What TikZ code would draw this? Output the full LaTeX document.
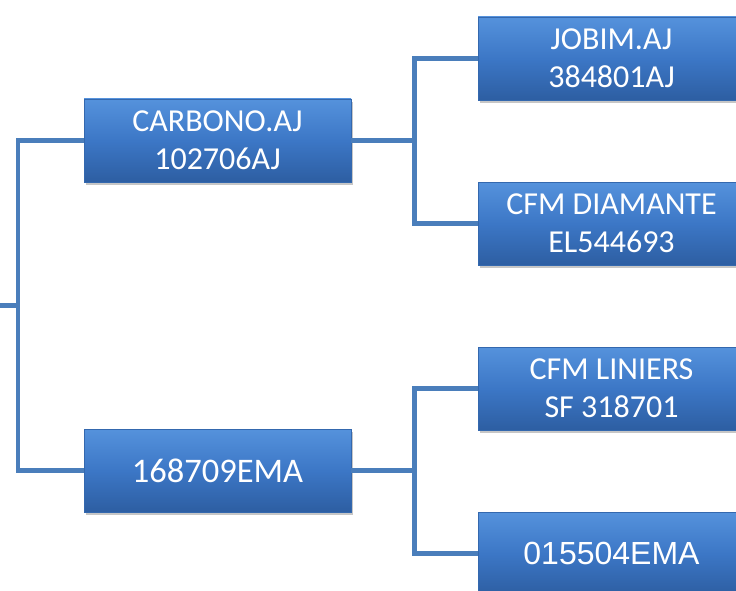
\documentclass[tikz,border=0pt]{standalone}
\usepackage{fontspec}
\setmainfont{Carlito}
\newfontfamily\arialfont{Liberation Sans}
\usetikzlibrary{shadows}
\definecolor{linec}{HTML}{4A7EBB}
\definecolor{boxtop}{HTML}{5592DC}
\definecolor{boxmid}{HTML}{3C77C6}
\definecolor{boxbot}{HTML}{2D5EA2}
\definecolor{boxedge}{HTML}{3468AE}
\tikzset{
  blk/.style={rectangle, draw=boxedge, line width=0.8pt,
    top color=boxtop, bottom color=boxbot, middle color=boxmid,
    minimum width=267pt, minimum height=83pt, inner sep=0pt,
    text=white, align=center,
    font=\fontsize{32}{38}\selectfont,
    drop shadow={opacity=0.45, shadow xshift=2pt, shadow yshift=-3pt}},
  conn/.style={draw=linec, line width=4.8pt}
}
\begin{document}
\begin{tikzpicture}[x=1pt,y=-1pt]
\useasboundingbox (0,0) rectangle (736,591);
\clip (0,0) rectangle (736,591);
\node[blk] (c) at (217.5,140.5) {CARBONO.AJ\\102706AJ};
\node[blk, font=\fontsize{34.5}{38}\selectfont] (e) at (217.5,470.5) {168709EMA};
\node[blk] (j) at (611.5,58.5) {JOBIM.AJ\\384801AJ};
\node[blk] (d) at (611.5,223.5) {CFM DIAMANTE\\EL544693};
\node[blk] (l) at (611.5,388.5) {CFM LINIERS\\SF 318701};
\node[blk, font=\arialfont\fontsize{32}{38}\selectfont] (f) at (611.5,553.5) {015504EMA};
\coordinate (root) at (-5,305.5);
\coordinate (j1) at (18,305.5);
\coordinate (j2) at (414.5,140.5);
\coordinate (j3) at (414.5,470.5);
\draw[conn] (root) -- (j1);
\draw[conn] (c.west) -| (j1) |- (e.west);
\draw[conn] (c.east) -- (j2);
\draw[conn] (j.west) -| (j2) |- (d.west);
\draw[conn] (e.east) -- (j3);
\draw[conn] (l.west) -| (j3) |- (f.west);
\end{tikzpicture}
\end{document}
